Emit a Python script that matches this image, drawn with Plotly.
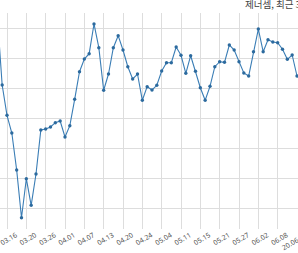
import plotly.graph_objects as go

dates = ["03.12", "03.13", "03.16", "03.17", "03.18", "03.19", "03.20", "03.23", "03.24", "03.25",
         "03.26", "03.27", "03.30", "03.31", "04.01", "04.02", "04.03", "04.06", "04.07", "04.08",
         "04.09", "04.10", "04.13", "04.14", "04.16", "04.17", "04.20", "04.21", "04.22", "04.23",
         "04.24", "04.27", "04.28", "04.29", "05.04", "05.06", "05.07", "05.08", "05.11", "05.12",
         "05.13", "05.14", "05.15", "05.18", "05.19", "05.20", "05.21", "05.22", "05.25", "05.26",
         "05.27", "05.28", "05.29", "06.01", "06.02", "06.03", "06.04", "06.05", "06.08", "06.09",
         "06.10", "06.11", "06.12"]
prices = [6700, 5550, 5045, 4750, 4133, 3338, 3988, 3545, 4067, 4800,
          4817, 4850, 4922, 4950, 4683, 4872, 5312, 5772, 5983, 6072,
          6567, 6172, 5462, 5733, 6172, 6372, 6133, 5855, 5650, 5733,
          5295, 5522, 5467, 5545, 5783, 5922, 5922, 6183, 6045, 5745,
          6038, 5778, 5505, 5295, 5528, 5855, 5938, 5928, 6217, 6133,
          5938, 5750, 5700, 6105, 6483, 6105, 6305, 6267, 6255, 6145,
          5978, 6050, 5700]
tick_dates = ["03.16", "03.20", "03.26", "04.01", "04.07", "04.13", "04.20", "04.24",
              "05.04", "05.11", "05.15", "05.21", "05.27", "06.02", "06.08", "06.12"]
tick_labels = ["03.16", "03.20", "03.26", "04.01", "04.07", "04.13", "04.20", "04.24",
               "05.04", "05.11", "05.15", "05.21", "05.27", "06.02", "06.08", "20.06.12"]
title_text = "제너셈, 최근 3개월"

origin = dates.index("03.16")
xs = [i - origin for i in range(len(dates))]
tickvals = [dates.index(d) - origin for d in tick_dates]

fig = go.Figure()
fig.add_trace(go.Scatter(
    x=xs, y=prices, mode="lines+markers",
    line=dict(color="#3a7db5", width=1.1),
    marker=dict(color="#2c6a9e", size=3.4),
    hoverinfo="skip",
))

fig.update_layout(
    width=298, height=253,
    margin=dict(l=0, r=0, t=13, b=24, autoexpand=False),
    paper_bgcolor="white", plot_bgcolor="white",
    showlegend=False,
    font=dict(family="Noto Sans", color="#555555"),
    annotations=[dict(
        text=title_text, xref="paper", yref="paper",
        x=243 / 298, y=1, xanchor="left", yanchor="bottom",
        yshift=0, showarrow=False,
        font=dict(family="Noto Sans CJK KR", size=9.5, color="#444444"),
    )],
)
fig.update_xaxes(
    range=[-7 / 4.833, 60 + 1 / 4.833],
    tickvals=tickvals, ticktext=tick_labels,
    tickangle=-30, tickfont=dict(family="Noto Sans", size=7, color="#555555"),
    showgrid=True, gridcolor="#dddddd", gridwidth=1,
    zeroline=False, showline=False, ticks="",
    ticklabelshift=9, ticklabelstandoff=0,
    ticklabeloverflow="allow", automargin=False,
)
fig.update_yaxes(
    range=[3150, 6750], tick0=3000, dtick=500,
    showticklabels=False, showgrid=True, gridcolor="#dddddd", gridwidth=1,
    zeroline=False, showline=False, ticks="", automargin=False,
)

fig.write_html("out.html")
